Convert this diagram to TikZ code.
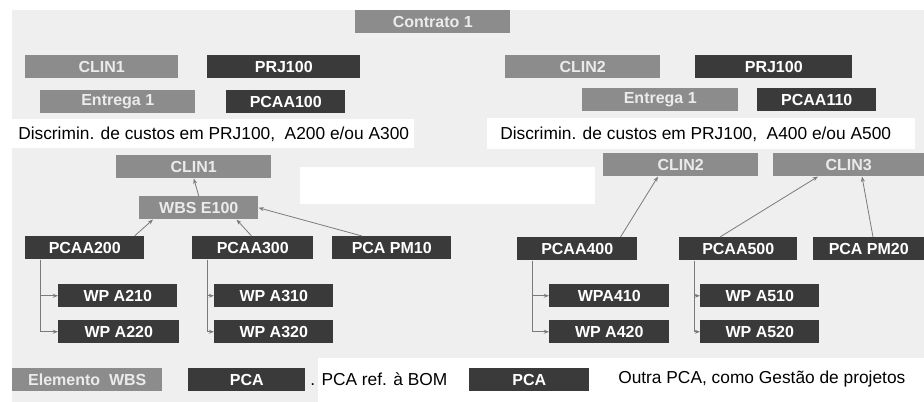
\documentclass[tikz,border=0pt]{standalone}
\usepackage{fontspec}
\setmainfont{Liberation Sans}
\usetikzlibrary{arrows.meta}
\definecolor{bggray}{HTML}{EFEFEF}
\definecolor{wbsgray}{HTML}{8C8C8C}
\definecolor{pcagray}{HTML}{3A3A3A}
\definecolor{linegray}{HTML}{7A7A7A}
\begin{document}
\begin{tikzpicture}[x=0.75pt,y=-0.75pt,
  box/.style={anchor=north west,minimum height=17.25pt,inner sep=0pt,font=\fontsize{12}{14}\selectfont\bfseries},
  wbs/.style={box,fill=wbsgray,text=white!92!black},
  pca/.style={box,fill=pcagray,text=white},
  note/.style={anchor=west,inner sep=0pt,font=\fontsize{13}{15}\selectfont},
  legnote/.style={note,font=\fontsize{13}{15}\selectfont},
  link/.style={draw=linegray,line width=0.6pt,-{Stealth[length=4pt,width=3pt]}}]
\useasboundingbox (0,0) rectangle (924,402);
% background
\fill[bggray] (12,10) rectangle (924,402);
\fill[white] (12,119) rectangle (414,148);
\fill[white] (487,118) rectangle (915,149);
\fill[white] (300,167) rectangle (595,204);
\fill[white] (318,358) rectangle (924,402);
% header
\foreach \n/\x/\y/\w/\t in {ctr/355/10/155/Contrato 1,clina/25/55/153/CLIN1,enta/40/90/155/Entrega 1,
  clinb/505/55/155/CLIN2,entb/582/88/156/Entrega 1}
  \node[wbs,minimum width=\w*0.75pt] (\n) at (\x,\y) {\t};
\foreach \n/\x/\y/\w/\t in {prja/207/55/153/PRJ100,pcaaa/226/90/119/PCAA100,
  prjb/695/55/157/PRJ100,pcaab/757/88/119/PCAA110}
  \node[pca,minimum width=\w*0.75pt] (\n) at (\x,\y) {\t};
\node[note] (disca) at (18,134) {Discrimin. de custos em PRJ100,\ \ A200 e/ou A300};
\node[note] (discb) at (500,134) {Discrimin. de custos em PRJ100,\ \ A400 e/ou A500};
% tree
\foreach \n/\x/\y/\w/\t in {clin1/116/155/155/CLIN1,e100/139/196/119/WBS E100,
  clin2/603/153/155/CLIN2,clin3/773/153/151/CLIN3}
  \node[wbs,minimum width=\w*0.75pt] (\n) at (\x,\y) {\t};
\foreach \n/\x/\y/\w/\t in {a200/25/236/119/PCAA200,a300/192/236/121/PCAA300,pm10/332/236/119/PCA PM10,
  a400/517/237/120/PCAA400,a500/679/237/118/PCAA500,pm20/813/237/111/PCA PM20,
  a210/58/284/119/WP A210,a220/58/320/121/WP A220,a310/214/284/119/WP A310,a320/214/320/119/WP A320,
  a410/549/284/120/WPA410,a420/549/320/120/WP A420,a510/700/284/119/WP A510,a520/700/320/119/WP A520}
  \node[pca,minimum width=\w*0.75pt] (\n) at (\x,\y) {\t};
\draw[link] (e100.north) -- (clin1.south);
\draw[link] ([xshift=-10*0.75pt]a200.north east) -- ([xshift=14*0.75pt]e100.south west);
\draw[link] ([xshift=-62*0.75pt]a300.north east) -- ([xshift=-22*0.75pt]e100.south east);
\draw[link] ([xshift=30*0.75pt]pm10.north west) -- (e100.east);
\draw[link] ([xshift=-17*0.75pt]a400.north east) -- ([xshift=55*0.75pt]clin2.south west);
\draw[link] ([xshift=41*0.75pt]a500.north west) -- ([xshift=45*0.75pt]clin3.south west);
\draw[link] ([xshift=60*0.75pt]pm20.north west) -- ([xshift=89*0.75pt]clin3.south west);
\foreach \p/\c in {a200/a210,a200/a220,a300/a310,a300/a320,a400/a410,a400/a420,a500/a510,a500/a520}
  \draw[link] ([xshift=15*0.75pt]\p.south west) |- (\c.west);
% legend
\node[wbs,minimum width=150*0.75pt] (legwbs) at (12,368) {Elemento\ \ WBS};
\node[pca,minimum width=117*0.75pt] (legbom) at (188,368) {PCA};
\node[legnote] (txtbom) at (310,379) {. PCA\ ref. à BOM};
\node[pca,minimum width=120*0.75pt] (legpm) at (469,368) {PCA};
\node[legnote] (txtpm) at (618,379) {Outra PCA, como Gestão de projetos};
\end{tikzpicture}
\end{document}
